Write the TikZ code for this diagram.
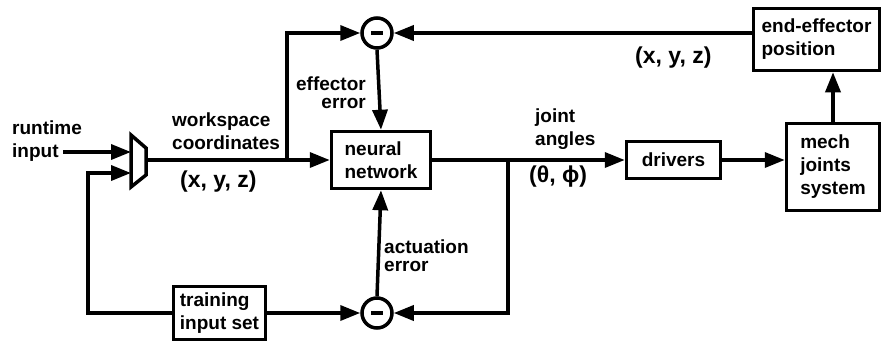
\documentclass[tikz,border=0pt]{standalone}
\usepackage{fontspec}
\setmainfont{Liberation Sans}
\usetikzlibrary{arrows.meta, positioning}

\begin{document}
\begin{tikzpicture}[x=1pt, y=-1pt,
        % blocks of the loop
        block/.style={
            rectangle,
            draw=black,
            line width=3.5pt,
            fill=white,
            align=left,
            inner sep=0pt,
            font=\bfseries\fontsize{19}{23}\selectfont
        },
        % summing junctions
        sumnode/.style={
            circle,
            draw=black,
            line width=3.5pt,
            fill=white,
            minimum size=30pt,
            inner sep=0pt
        },
        % plain thick lines
        line/.style={
            line width=3.5pt
        },
        % arrows with filled heads
        arrow/.style={
            line width=3.5pt,
            -{Triangle[length=20pt, width=15pt]}
        },
        % free labels
        lbl/.style={
            inner sep=0pt,
            align=left,
            font=\bfseries\fontsize{19}{23}\selectfont
        },
        % tight two-line labels
        tightlbl/.style={
            lbl,
            font=\bfseries\fontsize{19}{18}\selectfont
        },
        % coordinate tuples
        tuple/.style={
            inner sep=0pt,
            font=\bfseries\fontsize{23}{27}\selectfont
        }
    ]
        \useasboundingbox (0,0) rectangle (883,343);

        % Blocks at coordinates
        \node[block, minimum width=99pt, minimum height=57pt] (nn) at (381,160) {neural\\network};
        \node[block, minimum width=94pt, minimum height=37pt] (drv) at (673.5,160) {drivers};
        \node[block, minimum width=93pt, minimum height=87pt] (mech) at (833,167) {mech\\joints\\system};
        \node[block, minimum width=126pt, minimum height=62pt] (endeff) at (816.5,39.5) {end-effector\\position};
        \node[block, minimum width=92pt, minimum height=53pt] (train) at (219.5,313) {training\\input set};

        \node[sumnode] (sumtop) at (377,33) {\rule{12pt}{4pt}};
        \node[sumnode] (sumbot) at (377,313) {\rule{12pt}{4pt}};

        % Selector (mux)
        \coordinate (mux1) at (131,135);
        \coordinate (mux2) at (146,148);
        \coordinate (mux3) at (146,175);
        \coordinate (mux4) at (131,187);
        \draw[line] (mux1) -- (mux2) -- (mux3) -- (mux4) -- cycle;
        \coordinate (muxin1) at (131,152);
        \coordinate (muxin2) at (131,173);
        \coordinate (muxout) at (146,160);

        % Free ends and branch points
        \coordinate (rin) at (63,152);
        \coordinate (wsjoin) at (287,160);
        \coordinate (jajoin) at (508,160);

        % --- CONNECTIONS ---

        % 1. Inputs -> selector
        \draw[arrow] (rin) -- (muxin1);
        \draw[arrow] (train.west) -| ([xshift=-43pt]muxin2) -- (muxin2);

        % 2. Selector -> network, branch to upper junction
        \draw[arrow] (muxout) -- (nn.west);
        \draw[arrow] (wsjoin) |- (sumtop.west);
        \draw[arrow] (endeff.west |- sumtop.east) -- (sumtop.east);
        \draw[arrow] (sumtop.south) -- (nn.north);

        % 3. Network -> drivers -> joints -> end-effector
        \draw[arrow] (nn.east) -- (drv.west);
        \draw[arrow] (drv.east) -- (mech.west |- drv.east);
        \draw[arrow] (mech.north) -- (mech.north |- endeff.south);

        % 4. Lower junction
        \draw[arrow] (jajoin) |- (sumbot.east);
        \draw[arrow] (train.east) -- (sumbot.west);
        \draw[arrow] (sumbot.north) -- (nn.south);

        % --- LABELS ---
        \node[lbl, anchor=base west] (rtlbl) at (12,157) {runtime\\input};
        \node[lbl, anchor=base west] (wslbl) at (172,149) {workspace\\coordinates};
        \node[tuple, anchor=base west] (xyzlo) at (180,187) {(x, y, z)};
        \node[tightlbl, anchor=base east, align=right] (eflbl) at (366,108) {effector\\error};
        \node[lbl, anchor=base west] (jalbl) at (535,145) {joint\\angles};
        \node[tuple, anchor=base west] (anglbl) at (529,182) {(θ, ϕ)};
        \node[tuple, anchor=base west] (xyzhi) at (635,63) {(x, y, z)};
        \node[tightlbl, anchor=base west] (aclbl) at (384,271) {actuation\\error};

    \end{tikzpicture}
\end{document}
